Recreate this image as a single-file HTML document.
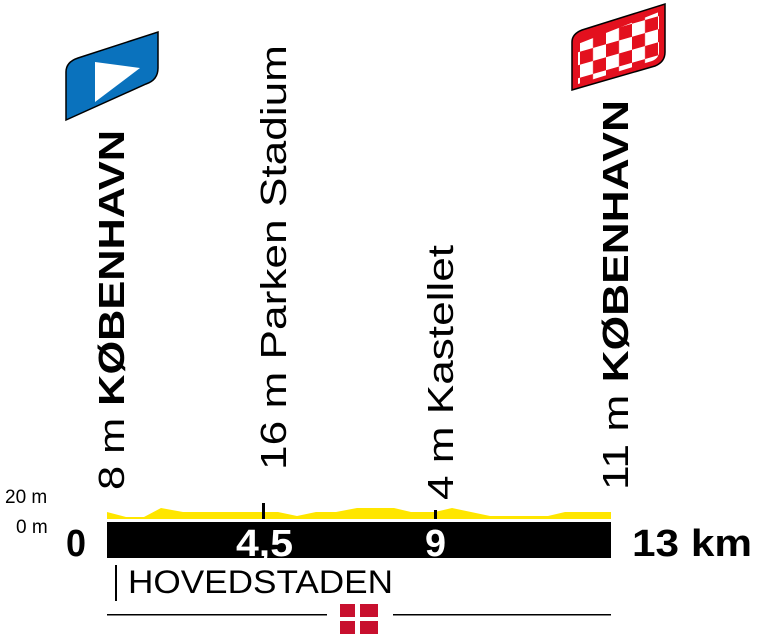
<!DOCTYPE html>
<html><head><style>body{margin:0;background:#fff}svg{display:block}</style></head><body>
<svg width="758" height="634" viewBox="0 0 758 634" xmlns="http://www.w3.org/2000/svg" font-family="Liberation Sans, sans-serif">
<defs>
<pattern id="chk" x="580" y="10" width="26" height="26" patternUnits="userSpaceOnUse" patternTransform="skewY(-16)">
<rect width="26" height="26" fill="#fff"/><rect width="13" height="13" fill="#e3101e"/><rect x="13" y="13" width="13" height="13" fill="#e3101e"/>
</pattern>
</defs>
<path d="M66,72 Q66,62 78,58 L158,32 L158,68 Q158,80 146,84 L66,120 Z" fill="#0a72bd" stroke="#000" stroke-width="1.5"/>
<polygon points="95,62 140,68 95,102" fill="#fff"/>
<path d="M572,42 Q572,34 582,30 L665,4 L665,52 Q665,62 655,66 L572,90 Z" fill="#e3101e" stroke="#000" stroke-width="1.5"/>
<path d="M578,44 L659,12 L659,52 Q659,58 652,61 L578,84 Z" fill="url(#chk)"/>
<g font-size="36" fill="#000">
<text transform="translate(124,490) rotate(-90)" textLength="360" lengthAdjust="spacingAndGlyphs">8 m <tspan font-weight="bold">KØBENHAVN</tspan></text>
<text transform="translate(286,470) rotate(-90)" textLength="425" lengthAdjust="spacingAndGlyphs">16 m  Parken Stadium</text>
<text transform="translate(453,500) rotate(-90)" textLength="255" lengthAdjust="spacingAndGlyphs">4 m Kastellet</text>
<text transform="translate(628,490) rotate(-90)" textLength="390" lengthAdjust="spacingAndGlyphs">11 m <tspan font-weight="bold">KØBENHAVN</tspan></text>
</g>
<polygon points="107,512 126,517 144,517 161,508 183,512 263,512 278,512 297,516 316,512 336,512 357,508 394,508 411,512 435,512 452,508 471,512 490,516 548,516 565,512 611,512 611,519 107,519" fill="#ffe600"/>
<rect x="107" y="522" width="504" height="36" fill="#000"/>
<rect x="262" y="503" width="3" height="16" fill="#000"/>
<rect x="434" y="510" width="3" height="9" fill="#000"/>
<text x="5" y="503" font-size="19">20 m</text>
<text x="16" y="533" font-size="19">0 m</text>
<text x="66" y="556" font-size="38" font-weight="bold" textLength="20" lengthAdjust="spacingAndGlyphs">0</text>
<text x="632" y="556" font-size="38" font-weight="bold" textLength="120" lengthAdjust="spacingAndGlyphs">13 km</text>
<text x="236" y="556" font-size="38" font-weight="bold" fill="#fff" textLength="57" lengthAdjust="spacingAndGlyphs">4,5</text>
<text x="425" y="556" font-size="38" font-weight="bold" fill="#fff" textLength="21" lengthAdjust="spacingAndGlyphs">9</text>
<rect x="115" y="565" width="2" height="36" fill="#000"/>
<text x="128" y="593" font-size="32" textLength="265" lengthAdjust="spacingAndGlyphs">HOVEDSTADEN</text>
<rect x="107" y="614" width="220" height="1.5" fill="#000"/>
<rect x="393" y="614" width="218" height="1.5" fill="#000"/>
<rect x="340" y="604" width="38" height="30" fill="#c8102e"/>
<rect x="355" y="604" width="5" height="30" fill="#fff"/>
<rect x="340" y="617" width="38" height="4" fill="#fff"/>
</svg>
</body></html>
